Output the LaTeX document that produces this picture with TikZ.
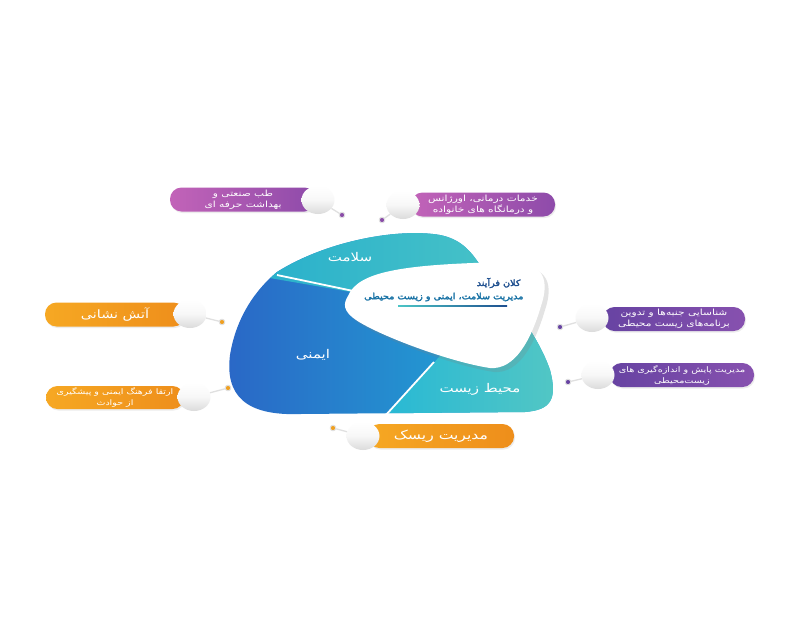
\documentclass[tikz,border=0pt]{standalone}
\usepackage{fontspec}
\newfontfamily\arabicfont[Script=Arabic,FakeStretch=1.25]{DejaVu Sans}
\newfontfamily\arabicbold[Script=Arabic,FakeBold=3,FakeStretch=1.12]{DejaVu Sans}
\TeXXeTstate=1
\usetikzlibrary{shadows,shapes.geometric}
\newcommand{\fa}[1]{\beginR #1\endR}
\definecolor{purA}{HTML}{C263B8}
\definecolor{purB}{HTML}{8E4BAA}
\definecolor{vioA}{HTML}{6743A2}
\definecolor{vioB}{HTML}{8751AF}
\definecolor{orA}{HTML}{F6A823}
\definecolor{orB}{HTML}{EE8E1B}
\definecolor{blueA}{HTML}{2A66C6}
\definecolor{cyanA}{HTML}{1FB4D8}
\definecolor{topA}{HTML}{22ACCD}
\definecolor{topB}{HTML}{4CC5C6}
\definecolor{brA}{HTML}{27B8D5}
\definecolor{brB}{HTML}{5DCAC0}
\definecolor{titleblue}{HTML}{1E4F8F}
\definecolor{dotpur}{HTML}{8A4CA8}
\definecolor{dotor}{HTML}{F0A020}
\tikzset{
  pill/.style={rounded corners=11.5pt, minimum height=24pt, inner sep=0pt, text=white,
    font=\arabicfont\fontsize{8.5}{11}\selectfont, align=center,
    drop shadow={shadow xshift=1pt, shadow yshift=-1.5pt, opacity=0.15}},
  purplepill/.style={pill, left color=purA, right color=purB},
  violetpill/.style={pill, left color=vioA, right color=vioB},
  orangepill/.style={pill, left color=orA, right color=orB},
  knob/.style={ellipse, minimum width=33pt, minimum height=28pt, inner sep=0pt,
    top color=white, bottom color=black!14, middle color=white!97!black},
  tipdot/.style={circle, minimum size=5.5pt, inner sep=0pt, draw=white!88!black, line width=1pt},
  stem/.style={draw=black!12, line width=1.3pt},
  seglabel/.style={text=white, font=\arabicfont\fontsize{12}{14}\selectfont},
  divider/.style={draw=white, line width=1.8pt},
  titletext/.style={font=\arabicbold\fontsize{8.6}{10}\selectfont, anchor=east}
}
\begin{document}
\begin{tikzpicture}[x=1pt,y=-1pt]
\useasboundingbox[fill=white] (0,0) rectangle (795,638);

% main blob
\begin{scope}
\clip (277,272) .. controls (328,240) and (400,228) .. (440,235)
  .. controls (460,239) and (470,250) .. (480,265)
  .. controls (510,300) and (538,335) .. (550,370)
  .. controls (558,400) and (550,410) .. (525,412)
  -- (300,414) .. controls (245,416) and (225,395) .. (230,355)
  .. controls (236,318) and (255,290) .. (277,272) -- cycle;
\shade[left color=blueA, right color=cyanA] (220,220) rectangle (570,420);
\shade[left color=topA, right color=topB] (200,266) -- (380,297) -- (540,300) -- (540,200) -- (200,200) -- cycle;
\shade[left color=brA, right color=brB] (380,422) -- (432,365) -- (480,310) -- (600,250) -- (600,440) -- cycle;
\end{scope}
\coordinate (l1a) at (277,275);
\coordinate (l1b) at (382,297);
\coordinate (l2a) at (434,362);
\coordinate (l2b) at (385,416);
\draw[divider] (l1a) -- (l1b);
\draw[divider] (l2a) -- (l2b);

\node[seglabel] (s1) at (350,257) {\fa{سلامت}};
\node[seglabel] (s2) at (313,355) {\fa{ایمنی}};
\node[seglabel] (s3) at (480,389) {\fa{محیط زیست}};

% white blob
\fill[white, drop shadow={shadow xshift=4pt, shadow yshift=-4pt, opacity=0.22}]
  (348,296) .. controls (358,272) and (400,264) .. (510,262)
  .. controls (546,262) and (549,282) .. (541,306)
  .. controls (531,340) and (515,370) .. (490,368)
  .. controls (450,362) and (380,336) .. (356,320)
  .. controls (343,311) and (343,304) .. (348,296) -- cycle;

\node[titletext, text=titleblue] (t1) at (524,283) {\fa{کلان فرآیند}};
\node[titletext, text=titleblue!80!cyan] (t2) at (527,297) {\fa{مدیریت سلامت، ایمنی و زیست محیطی}};
\shade[left color=topB, right color=titleblue] (398,305.2) rectangle (507,306.8);

% callouts
\node[purplepill, minimum width=146pt] (p1) at (243,199.5) {\fa{طب صنعتی و}\\\fa{بهداشت حرفه ای}};
\node[knob] (k1) at (318,200) {};
\node[tipdot, fill=dotpur] (d1) at (342,215) {};
\draw[stem] (k1) -- (d1);

\node[purplepill, minimum width=144pt] (p2) at (483,204.5) {\fa{خدمات درمانی، اورژانس}\\\fa{و درمانگاه های خانواده}};
\node[knob] (k2) at (403,205) {};
\node[tipdot, fill=dotpur] (d2) at (382,220) {};
\draw[stem] (k2) -- (d2);

\node[violetpill, minimum width=142pt] (p3) at (674,319) {\fa{شناسایی جنبه‌ها و تدوین}\\\fa{برنامه‌های زیست محیطی}};
\node[knob] (k3) at (592,318) {};
\node[tipdot, fill=vioA] (d3) at (560,327) {};
\draw[stem] (k3) -- (d3);

\node[violetpill, minimum width=144pt, font=\arabicfont\fontsize{7.7}{11}\selectfont] (p4) at (682,375) {\fa{مدیریت پایش و اندازه‌گیری های}\\\fa{زیست‌محیطی}};
\node[knob] (k4) at (598,375) {};
\node[tipdot, fill=vioA] (d4) at (568,382) {};
\draw[stem] (k4) -- (d4);

\node[orangepill, minimum width=140pt, font=\arabicfont\fontsize{11.5}{13}\selectfont] (p5) at (115,314.5) {\fa{آتش نشانی}};
\node[knob] (k5) at (190,314) {};
\node[tipdot, fill=dotor] (d5) at (222,322) {};
\draw[stem] (k5) -- (d5);

\node[orangepill, minimum width=138pt, minimum height=23pt, font=\arabicfont\fontsize{7.6}{10.5}\selectfont] (p6) at (115,397.5) {\fa{ارتقا فرهنگ ایمنی و پیشگیری}\\\fa{از حوادث}};
\node[knob] (k6) at (194,397) {};
\node[tipdot, fill=dotor] (d6) at (228,388) {};
\draw[stem] (k6) -- (d6);

\node[orangepill, minimum width=146pt, font=\arabicfont\fontsize{12.5}{14}\selectfont] (p7) at (441,436) {\fa{مدیریت ریسک}};
\node[knob] (k7) at (363,436) {};
\node[tipdot, fill=dotor] (d7) at (333,428) {};
\draw[stem] (k7) -- (d7);
\end{tikzpicture}
\end{document}
